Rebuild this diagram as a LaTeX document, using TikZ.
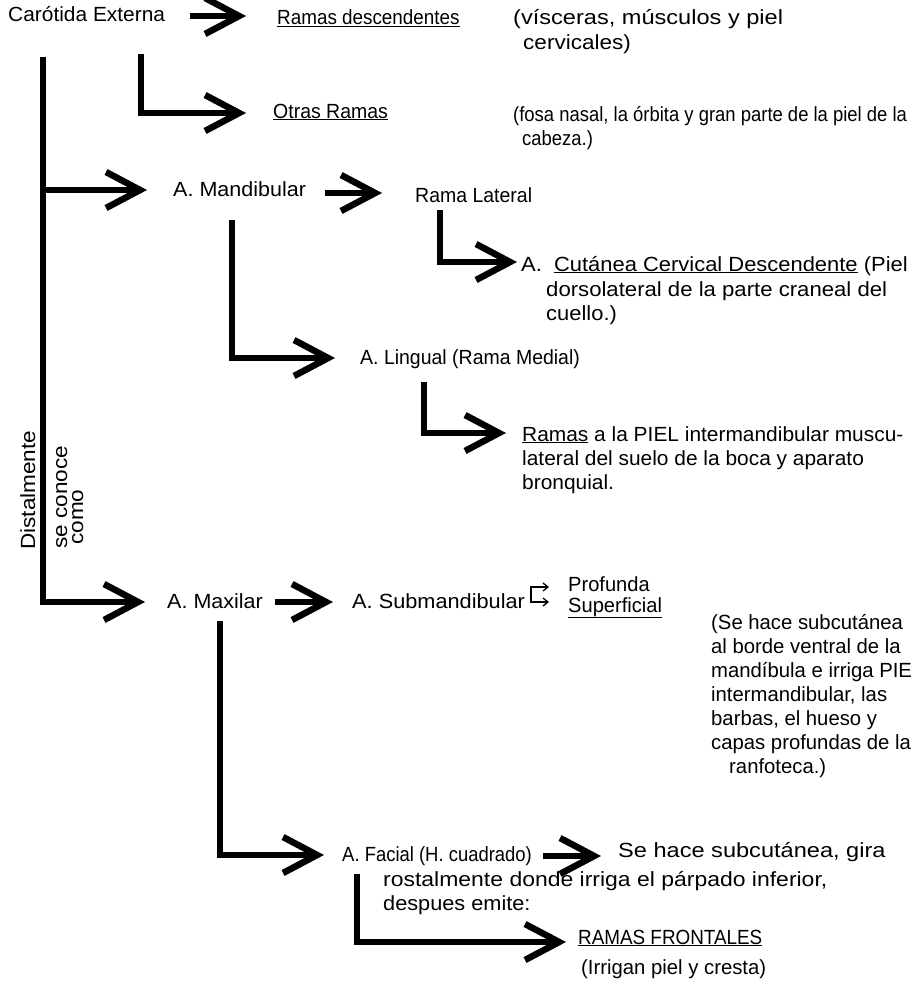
\documentclass[tikz,border=0pt]{standalone}
\usepackage{fontspec}
\setmainfont{Liberation Sans}
\usetikzlibrary{arrows.meta}
% one text height throughout, each line with its own horizontal stretch
\newcommand\fw[1]{\fontsize{20.5}{24}\selectfont\addfontfeature{FakeStretch=#1}}
\begin{document}
\begin{tikzpicture}[x=1pt,y=-1pt,
  txt/.style={anchor=base west, inner sep=0pt, font=\fw{1}},
  vtxt/.style={anchor=base west, inner sep=0pt, rotate=90},
  fat/.style={line width=6pt, -{Straight Barb[length=34pt,width=36pt,line width=6.5pt]}},
  wire/.style={line width=5.5pt},
  tiny/.style={line width=1.3pt, {Straight Barb[length=5pt,width=8pt]}-{Straight Barb[length=5pt,width=8pt]}}
]
\useasboundingbox (0,0) rectangle (922,982);

% ---- top row
\node[txt, font=\fw{1.02}] (car) at (8,22) {Carótida Externa};
\coordinate (a1s) at (190,16);
\coordinate (a1e) at (246,16);
\draw[fat] (a1s) -- (a1e);
\node[txt, font=\fw{0.92}] (desc) at (277,25) {\underline{Ramas descendentes}};
\node[txt, font=\fw{1.15}] (visc) at (513,25) {(vísceras, músculos y piel};
\node[txt, font=\fw{1.1}] (visc2) at (523,49) {cervicales)};

% ---- main trunk
\coordinate (trunk) at (43,57);
\coordinate (tMand) at (147,190);
\coordinate (tMax) at (145,602);
\draw[wire] (trunk) -- (43,605);
\draw[fat] (43,190) -- (tMand);
\draw[fat] (40.25,602) -- (tMax);

% ---- otras ramas
\coordinate (otr) at (141,54);
\coordinate (tOtr) at (246,113);
\draw[fat] (otr) |- (tOtr);
\node[txt, font=\fw{0.95}] (otras) at (273,118) {\underline{Otras Ramas}};
\node[txt, font=\fw{0.9}] (fosa) at (513,121) {(fosa nasal, la órbita y gran parte de la piel de la};
\node[txt, font=\fw{0.9}] (fosa2) at (522,145) {cabeza.)};

% ---- mandibular
\node[txt, font=\fw{1.05}] (mand) at (173,196) {A. Mandibular};
\coordinate (a2s) at (325,193);
\coordinate (a2e) at (382,193);
\draw[fat] (a2s) -- (a2e);
\node[txt, font=\fw{0.95}] (lat) at (415,202) {Rama Lateral};

\coordinate (latv) at (440,210);
\coordinate (tCut) at (517,262);
\draw[fat] (latv) |- (tCut);
\node[txt, font=\fw{1.07}] (cut) at (521,271) {A.\ \ \underline{Cutánea Cervical Descendente} (Piel};
\node[txt, font=\fw{1.08}] (cut2) at (546,296) {dorsolateral de la parte craneal del};
\node[txt, font=\fw{1.07}] (cut3) at (546,320) {cuello.)};

\coordinate (mandv) at (232,220);
\coordinate (tLing) at (335,358);
\draw[fat] (mandv) |- (tLing);
\node[txt, font=\fw{0.95}] (ling) at (360,364) {A. Lingual (Rama Medial)};

\coordinate (lingv) at (424,382);
\coordinate (tPiel) at (506,433);
\draw[fat] (lingv) |- (tPiel);
\node[txt, font=\fw{1.02}] (piel) at (522,441) {\underline{Ramas} a la PIEL intermandibular muscu-};
\node[txt, font=\fw{1.02}] (piel2) at (522,465) {lateral del suelo de la boca y aparato};
\node[txt, font=\fw{1.02}] (piel3) at (522,489) {bronquial.};

% ---- vertical labels along the trunk
\node[vtxt, font=\fw{1.1}] (dist) at (35,550) {Distalmente};
\node[vtxt, font=\fw{1.1}] (conoce) at (67,549) {se conoce};
\node[vtxt, font=\fw{1.1}] (como) at (83,545) {como};

% ---- maxilar
\node[txt, font=\fw{1.05}] (max) at (167,608) {A. Maxilar};
\coordinate (a3s) at (275,602);
\coordinate (a3e) at (333,602);
\draw[fat] (a3s) -- (a3e);
\node[txt, font=\fw{1.06}] (sub) at (352,608) {A. Submandibular};
\coordinate (bkT) at (549,587);
\coordinate (bkB) at (549,602);
\draw[tiny] (bkT) -- (531,587) -- (531,602) -- (bkB);
\node[txt, font=\fw{0.98}] (prof) at (568,591) {Profunda};
\node[txt, font=\fw{0.98}] (sup) at (568,612) {\underline{Superficial}};

\node[txt, font=\fw{0.99}] (se1) at (711,629) {(Se hace subcutánea};
\node[txt, font=\fw{0.99}] (se2) at (711,653) {al borde ventral de la};
\node[txt, font=\fw{0.99}] (se3) at (711,677) {mandíbula e irriga PIE};
\node[txt, font=\fw{0.99}] (se4) at (711,701) {intermandibular, las};
\node[txt, font=\fw{0.99}] (se5) at (711,725) {barbas, el hueso y};
\node[txt, font=\fw{0.99}] (se6) at (711,749) {capas profundas de la};
\node[txt, font=\fw{0.99}] (se7) at (729,773) {ranfoteca.)};

% ---- facial
\coordinate (maxv) at (220,621);
\coordinate (tFac) at (324,855);
\draw[fat] (maxv) |- (tFac);
\node[txt, font=\fw{0.9}] (fac) at (342,861) {A. Facial (H. cuadrado)};
\coordinate (a4s) at (543,856);
\coordinate (a4e) at (601,856);
\draw[fat] (a4s) -- (a4e);
\node[txt, font=\fw{1.15}] (gira) at (618,857) {Se hace subcutánea, gira};
\node[txt, font=\fw{1.12}] (rost) at (383,886) {rostalmente donde irriga el párpado inferior,};
\node[txt, font=\fw{1.06}] (desp) at (383,910) {despues emite:};

\coordinate (facv) at (357,874);
\coordinate (tFront) at (566,942);
\draw[fat] (facv) |- (tFront);
\node[txt, font=\fw{0.92}] (front) at (578,944) {\underline{RAMAS FRONTALES}};
\node[txt, font=\fw{0.99}] (irr) at (581,974) {(Irrigan piel y cresta)};
\end{tikzpicture}
\end{document}
